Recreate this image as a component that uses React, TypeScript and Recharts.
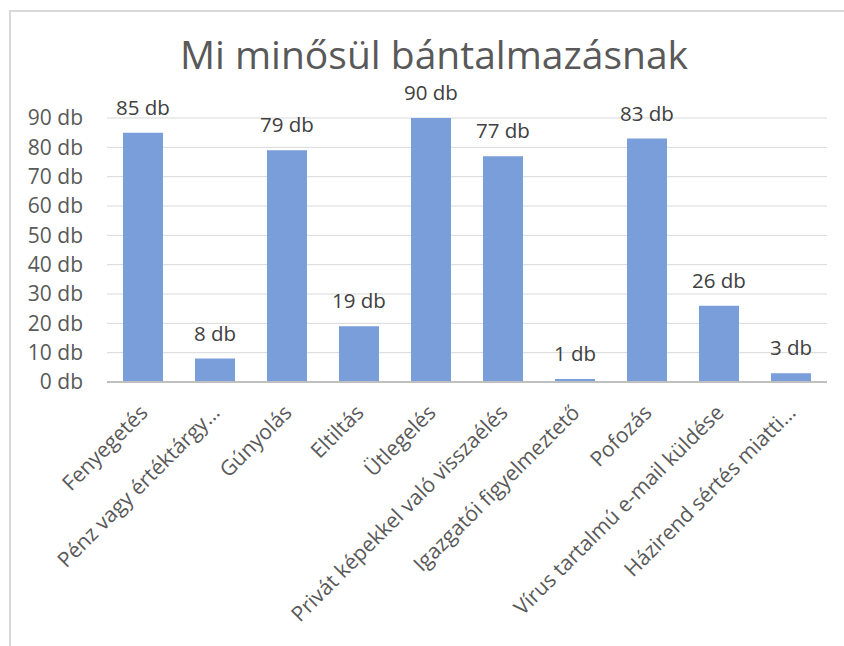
import React from "react";
import { BarChart, Bar, XAxis, YAxis, CartesianGrid, LabelList } from "recharts";

const categories = [
  "Fenyegetés",
  "Pénz vagy értéktárgy…",
  "Gúnyolás",
  "Eltiltás",
  "Ütlegelés",
  "Privát képekkel való visszaélés",
  "Igazgatói figyelmeztető",
  "Pofozás",
  "Vírus tartalmú e-mail küldése",
  "Házirend sértés miatti…",
];
const counts = [85, 8, 79, 19, 90, 77, 1, 83, 26, 3];
const yTicks = [0, 10, 20, 30, 40, 50, 60, 70, 80, 90];

const data = categories.map((name, i) => ({ name, value: counts[i] }));

const FONT = "'Open Sans', sans-serif";

function CategoryTick({ x, y, payload }: any) {
  return (
    <g transform={`translate(${x + 2},${y + 20})`}>
      <text
        transform="rotate(-45)"
        textAnchor="end"
        dominantBaseline="middle"
        fill="#595959"
        fontSize={21}
        fontFamily={FONT}
      >
        {payload.value}
      </text>
    </g>
  );
}

function ValueLabel({ x, y, width, value }: any) {
  return (
    <text
      x={x + width / 2}
      y={y - 18}
      textAnchor="middle"
      fill="#404040"
      fontSize={20.5}
      fontFamily={FONT}
    >
      {`${value} db`}
    </text>
  );
}

export default function App() {
  return (
    <div
      style={{
        position: "fixed",
        left: 9,
        top: 10,
        width: 833,
        height: 634,
        borderTop: "2px solid #d9d9d9",
        borderLeft: "2px solid #d9d9d9",
        background: "#fff",
        overflow: "hidden",
      }}
    >
      <div
        style={{
          position: "absolute",
          left: 0,
          width: 846,
          top: 22,
          textAlign: "center",
          fontFamily: FONT,
          fontSize: 39,
          color: "#595959",
          lineHeight: "40px",
        }}
      >
        Mi minősül bántalmazásnak
      </div>
      <BarChart
        width={833}
        height={634}
        data={data}
        margin={{ top: 106, right: 17, bottom: 0, left: 0 }}
        style={{ position: "absolute", left: 0, top: 0 }}
      >
        <CartesianGrid vertical={false} stroke="#d9d9d9" />
        <XAxis
          dataKey="name"
          interval={0}
          height={264}
          tick={<CategoryTick />}
          tickLine={false}
          axisLine={{ stroke: "#bfbfbf", strokeWidth: 2 }}
        />
        <YAxis
          width={96}
          domain={[0, 90]}
          ticks={yTicks}
          interval={0}
          tickFormatter={(v: number) => `${v} db`}
          axisLine={false}
          tickLine={false}
          tickMargin={18}
          tick={{ fill: "#595959", fontSize: 21, fontFamily: FONT }}
        />
        <Bar dataKey="value" fill="#7a9ed9" barSize={40} isAnimationActive={false}>
          <LabelList dataKey="value" content={<ValueLabel />} />
        </Bar>
      </BarChart>
    </div>
  );
}
